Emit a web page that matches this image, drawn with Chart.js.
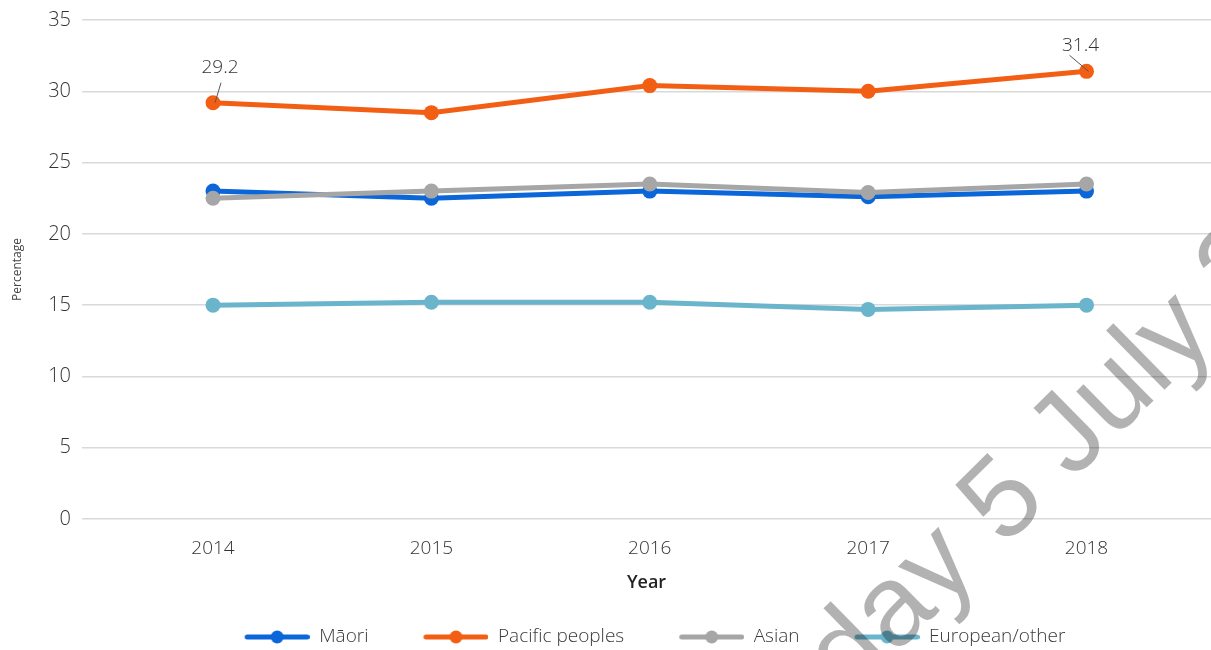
<!DOCTYPE html>
<html>
<head>
<meta charset="utf-8">
<script src="https://cdn.jsdelivr.net/npm/chart.js@4.4.1/dist/chart.umd.min.js"></script>
<style>
  html, body { margin: 0; padding: 0; background: #fff; }
  #wrap { width: 1211px; height: 650px; position: relative; }
</style>
</head>
<body>
<div id="wrap"><canvas id="chart"></canvas></div>
<script>
// data
var years = [2014, 2015, 2016, 2017, 2018];
var yearLabels = ['2014', '2015', '2016', '2017', '2018'];
var maori = [23.0, 22.5, 23.0, 22.6, 23.0];
var pacific = [29.2, 28.5, 30.4, 30.0, 31.4];
var asian = [22.5, 23.0, 23.5, 22.9, 23.5];
var european = [15.0, 15.2, 15.2, 14.7, 15.0];
var seriesNames = ['Māori', 'Pacific peoples', 'Asian', 'European/other'];
var yTicks = [0, 5, 10, 15, 20, 25, 30, 35];
var labelledPoints = [[1, 0], [1, 4]]; // [dataset, point] with a value tag
var watermarkText = 'day 5 July 2';

var colors = ['#0a66d9', '#f25f14', '#a6a6a6', '#6bb5cc'];
var FONT = '"Open Sans", sans-serif';

Chart.defaults.font.family = FONT;
Chart.defaults.font.weight = 300;
Chart.defaults.color = '#3a3a3a';

function points(values) {
  return values.map(function (v, i) { return { x: years[i], y: v }; });
}

// legend symbol: line with a dot, right part of a wider transparent box
function legendIcon(color) {
  var c = document.createElement('canvas');
  c.width = 100; c.height = 16;
  var g = c.getContext('2d');
  g.strokeStyle = color;
  g.lineWidth = 5;
  g.lineCap = 'round';
  g.beginPath(); g.moveTo(37.5, 8); g.lineTo(97.5, 8); g.stroke();
  g.fillStyle = color;
  g.beginPath(); g.arc(67.5, 8, 6.5, 0, Math.PI * 2); g.fill();
  return c;
}
var icons = colors.map(legendIcon);

var tagOffsets = [
  { tx: 7, ty: -35, lx1: 8, ly1: -20, lx2: 2, ly2: 0 },
  { tx: -6, ty: -26, lx1: -17, ly1: -16, lx2: 2, ly2: 0 }
];

var valueTags = {
  id: 'valueTags',
  afterDatasetsDraw: function (chart) {
    var ctx = chart.ctx;
    labelledPoints.forEach(function (p, k) {
      var el = chart.getDatasetMeta(p[0]).data[p[1]];
      var v = chart.data.datasets[p[0]].data[p[1]].y;
      var o = tagOffsets[k];
      ctx.save();
      ctx.strokeStyle = '#555';
      ctx.lineWidth = 1;
      ctx.beginPath();
      ctx.moveTo(el.x + o.lx1, el.y + o.ly1);
      ctx.lineTo(el.x + o.lx2, el.y + o.ly2);
      ctx.stroke();
      ctx.font = '300 19px ' + FONT;
      ctx.fillStyle = '#333';
      ctx.textAlign = 'center';
      ctx.textBaseline = 'middle';
      ctx.fillText(v.toFixed(1), el.x + o.tx, el.y + o.ty);
      ctx.restore();
    });
  }
};

var legendNudge = {
  id: 'legendNudge',
  afterLayout: function (chart) {
    chart.legend.left += 64;
    chart.legend.top += 6.5;
  }
};

var watermark = {
  id: 'watermark',
  afterDraw: function (chart) {
    var ctx = chart.ctx;
    ctx.save();
    ctx.translate(849, 700);
    ctx.rotate(-44.5 * Math.PI / 180);
    ctx.font = '115px "Liberation Sans", Arial, sans-serif';
    ctx.fillStyle = 'rgba(0,0,0,0.3)';
    ctx.textAlign = 'left';
    ctx.textBaseline = 'alphabetic';
    ctx.fillText(watermarkText, 0, 0);
    ctx.restore();
  }
};

var seriesValues = [maori, pacific, asian, european];
var drawOrder = [1, 2, 0, 3];

var ctx = document.getElementById('chart').getContext('2d');
var chart = new Chart(ctx, {
  type: 'line',
  data: {
    datasets: seriesValues.map(function (vals, i) {
      return {
        label: seriesNames[i],
        data: points(vals),
        borderColor: colors[i],
        backgroundColor: colors[i],
        borderWidth: 5,
        pointRadius: 7.5,
        pointHoverRadius: 7.5,
        pointBorderWidth: 0,
        tension: 0,
        order: drawOrder[i]
      };
    })
  },
  options: {
    responsive: true,
    maintainAspectRatio: false,
    animation: false,
    layout: { autoPadding: false, padding: { top: 20, left: 0, right: 0, bottom: 0 } },
    plugins: {
      legend: {
        display: true,
        position: 'bottom',
        labels: {
          usePointStyle: true,
          pointStyleWidth: 100,
          padding: 20,
          color: '#3a3a3a',
          font: { size: 19, weight: 300 },
          sort: function (a, b) { return a.datasetIndex - b.datasetIndex; },
          generateLabels: function (chart) {
            var items = Chart.defaults.plugins.legend.labels.generateLabels(chart);
            items.forEach(function (it) { it.pointStyle = icons[it.datasetIndex]; });
            return items;
          }
        }
      },
      tooltip: { enabled: false },
      title: { display: false }
    },
    scales: {
      x: {
        type: 'linear',
        min: 2013.4,
        max: 2018.57,
        afterBuildTicks: function (scale) {
          scale.ticks = years.map(function (y) { return { value: y }; });
        },
        afterFit: function (scale) {
          scale.height = 82;
          scale.paddingLeft = 0;
          scale.paddingRight = 0;
        },
        ticks: {
          padding: 18,
          font: { size: 19, weight: 300 },
          color: '#333',
          maxRotation: 0,
          callback: function (v) {
            var i = years.indexOf(v);
            return i >= 0 ? yearLabels[i] : '';
          }
        },
        grid: { display: false, drawTicks: false },
        border: { display: false },
        title: {
          display: true,
          text: 'Year',
          color: '#222',
          font: { size: 18, weight: 600 },
          padding: { top: 0, bottom: 7 }
        }
      },
      y: {
        min: 0,
        max: 35,
        afterBuildTicks: function (scale) {
          scale.ticks = yTicks.map(function (v) { return { value: v }; });
        },
        afterFit: function (scale) {
          scale.width = 82;
          scale.paddingTop = 0;
          scale.paddingBottom = 0;
        },
        ticks: {
          padding: 11,
          font: { size: 20, weight: 300 },
          color: '#333'
        },
        grid: { color: '#d9d9d9', lineWidth: 1.5, drawTicks: false },
        border: { display: false },
        title: {
          display: true,
          text: 'Percentage',
          color: '#444',
          font: { size: 12, weight: 400 },
          padding: { top: 10, bottom: 0 }
        }
      }
    }
  },
  plugins: [valueTags, legendNudge, watermark]
});
</script>
</body>
</html>
